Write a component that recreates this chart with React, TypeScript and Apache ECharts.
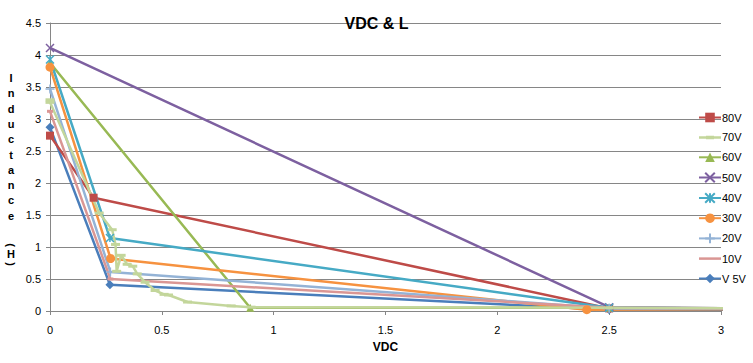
import React, { useEffect, useRef } from "react";
import * as echarts from "echarts";

// ---- data ----
const legendOrder = ["80V", "70V", "60V", "50V", "40V", "30V", "20V", "10V", "V 5V"];

const v5 = [[0, 2.87], [0.268, 0.41], [2.5, 0.02], [3.5, 0.02]];
const v80 = [[0, 2.74], [0.195, 1.77], [2.5, 0.04], [3.5, 0.03]];
const v60 = [[0, 3.88], [0.895, 0.05], [2.5, 0.05], [3.5, 0.04]];
const v50 = [[0, 4.11], [2.5, 0.06], [3.5, 0.03]];
const v40 = [[0, 3.93], [0.268, 1.14], [2.5, 0.05], [3.5, 0.03]];
const v30 = [[0, 3.81], [0.271, 0.82], [2.4, 0.02], [3.5, 0.03]];
const v20 = [[0, 3.47], [0.27, 0.61], [2.5, 0.04], [3.5, 0.03]];
const v10 = [[0, 3.12], [0.27, 0.5], [2.5, 0.05], [3.5, 0.03]];
const v70 = [
  [0, 3.3], [0, 3.26], [0.22, 1.53], [0.278, 1.27], [0.293, 1.04], [0.298, 0.62],
  [0.318, 0.87], [0.345, 0.73], [0.37, 0.7], [0.39, 0.58], [0.425, 0.45], [0.47, 0.32],
  [0.51, 0.26], [0.53, 0.25], [0.615, 0.14], [0.81, 0.08], [0.9, 0.06], [2.5, 0.05], [3.5, 0.04],
];

const yTitleLetters = ["I", "n", "d", "u", "c", "t", "a", "n", "c", "e"];

const FONT = "'Liberation Sans', Arial, sans-serif";
const X_SYM = "path://M0,0L10,10M10,0L0,10";
const STAR_SYM = "path://M0,0L10,10M10,0L0,10M5,0L5,10";
const PLUS_SYM = "path://M5,0L5,10M0,5L10,5";
const LINE_ICON = "path://M0,0L22,0L22,2.5L0,2.5Z";
const DASH_LINE_ICON = "path://M0,0.5L7,0.5L7,0L15,0L15,0.5L22,0.5L22,3L15,3L15,3.5L7,3.5L7,3L0,3Z";

type Def = { name: string; data: number[][]; color: string; symbol: string; size: any; stroke?: boolean; icon?: string };

const defs: Def[] = [
  { name: "V 5V", data: v5, color: "#4A7EBB", symbol: "diamond", size: 9 },
  { name: "80V", data: v80, color: "#BE4B48", symbol: "rect", size: 8 },
  { name: "60V", data: v60, color: "#98B954", symbol: "triangle", size: 8 },
  { name: "50V", data: v50, color: "#7D60A0", symbol: X_SYM, size: 8, stroke: true },
  { name: "40V", data: v40, color: "#46AAC5", symbol: STAR_SYM, size: 8, stroke: true },
  { name: "30V", data: v30, color: "#F69240", symbol: "circle", size: 9 },
  { name: "20V", data: v20, color: "#94B3D6", symbol: PLUS_SYM, size: 9, stroke: true },
  { name: "10V", data: v10, color: "#DA9694", symbol: "rect", size: [6, 3], icon: LINE_ICON },
  { name: "70V", data: v70, color: "#C3D69B", symbol: "rect", size: [9, 3], icon: DASH_LINE_ICON },
];

export default function App() {
  const ref = useRef<HTMLDivElement>(null);
  useEffect(() => {
    if (!ref.current) return;
    const chart = echarts.init(ref.current, undefined, { renderer: "svg" });
    const yTitle: any[] = yTitleLetters.map((ch, i) => ({
      type: "text",
      x: 11,
      y: 78 + i * 15.3,
      style: { text: ch, font: `bold 11px ${FONT}`, fill: "#000", align: "center", verticalAlign: "middle" },
    }));
    yTitle.push(
      { type: "text", x: 11, y: 245, rotation: -Math.PI / 2, style: { text: "(", font: `bold 11px ${FONT}`, fill: "#000", align: "center", verticalAlign: "middle" } },
      { type: "text", x: 11, y: 254, style: { text: "H", font: `bold 11px ${FONT}`, fill: "#000", align: "center", verticalAlign: "middle" } },
      { type: "text", x: 11, y: 264, rotation: -Math.PI / 2, style: { text: ")", font: `bold 11px ${FONT}`, fill: "#000", align: "center", verticalAlign: "middle" } }
    );
    const legendData = legendOrder.map((n) => {
      const d = defs.find((x) => x.name === n)!;
      return d.icon ? { name: n, icon: d.icon } : { name: n };
    });
    chart.setOption({
      animation: false,
      backgroundColor: "#fff",
      title: {
        text: "VDC & L",
        left: "center",
        top: 10,
        textStyle: { fontFamily: FONT, fontSize: 16, fontWeight: "bold", color: "#000" },
      },
      grid: { left: 50, right: 32, top: 23, bottom: 52, containLabel: false },
      legend: {
        data: legendData,
        orient: "vertical",
        left: 698,
        top: 112,
        itemWidth: 22,
        itemHeight: 12,
        itemGap: 8.9,
        padding: 0,
        textStyle: { fontFamily: FONT, fontSize: 11, color: "#000", padding: [0, 0, 0, -4] },
      },
      xAxis: {
        type: "value",
        min: 0,
        max: 3,
        interval: 0.5,
        name: "VDC",
        nameLocation: "middle",
        nameGap: 30,
        nameTextStyle: { fontFamily: FONT, fontSize: 12, fontWeight: "bold", color: "#000" },
        axisLine: { show: true, lineStyle: { color: "#868686", width: 1 } },
        axisTick: { show: true, length: 4, lineStyle: { color: "#868686" } },
        axisLabel: { fontFamily: FONT, fontSize: 11, color: "#000", margin: 13 },
        splitLine: { show: false },
      },
      yAxis: {
        type: "value",
        min: 0,
        max: 4.5,
        interval: 0.5,
        axisLine: { show: true, lineStyle: { color: "#868686", width: 1 } },
        axisTick: { show: true, length: 4, lineStyle: { color: "#868686" } },
        axisLabel: { fontFamily: FONT, fontSize: 11, color: "#000", margin: 9 },
        splitLine: { show: true, lineStyle: { color: "#868686", width: 1 } },
      },
      graphic: yTitle,
      series: defs.map((d) => ({
        name: d.name,
        type: "line",
        data: d.data,
        clip: true,
        symbol: d.symbol,
        symbolSize: d.size,
        showSymbol: true,
        lineStyle: { color: d.color, width: 2.5 },
        itemStyle: {
          color: d.color,
          borderColor: d.color,
          borderWidth: d.stroke ? 1.5 : 0,
        },
        emphasis: { disabled: true },
      })),
    });
    return () => chart.dispose();
  }, []);
  return <div ref={ref} style={{ position: "fixed", left: 0, top: 0, width: 753, height: 363 }} />;
}
